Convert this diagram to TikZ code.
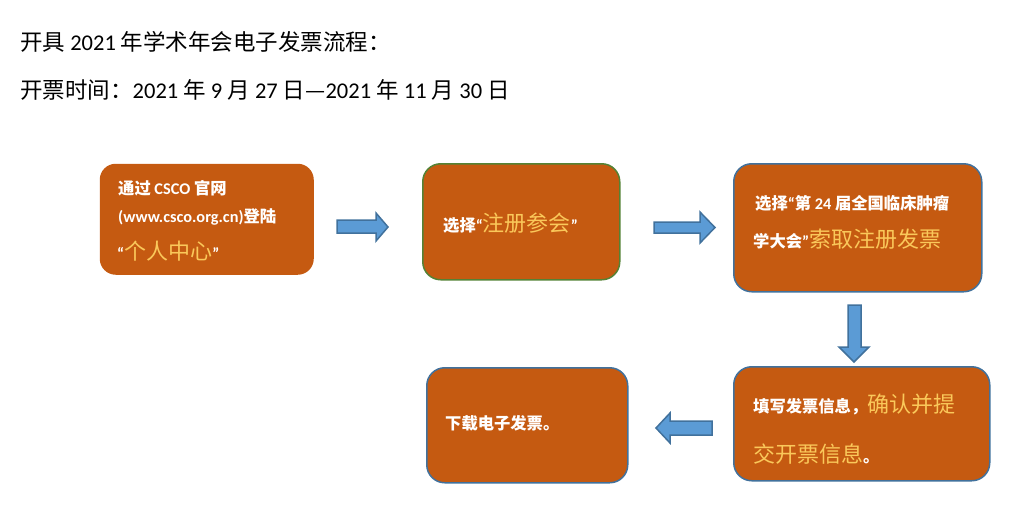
\documentclass[tikz,border=0pt]{standalone}
\usepackage{fontspec}
\usepackage{tikz}
\setmainfont{Carlito}
\newfontfamily\cjk{Noto Sans CJK SC}

\definecolor{boxfill}{RGB}{197,90,17}
\definecolor{boxline}{RGB}{65,113,156}
\definecolor{greenline}{RGB}{84,130,53}
\definecolor{arrowfill}{RGB}{91,155,213}
\definecolor{hilite}{RGB}{250,200,90}

\newcommand{\zh}[1]{{\cjk #1}}
\newcommand{\hl}[1]{{\color{hilite}\fontsize{22}{22}\selectfont\cjk\mdseries #1}}

\tikzset{
  box/.style={rounded corners=18pt, fill=boxfill, draw=boxline, line width=1.5pt,
    anchor=north west, inner sep=0pt},
  wtext/.style={anchor=base west, inner sep=0pt, text=white,
    font=\fontsize{16.3}{16.3}\selectfont\bfseries},
  title/.style={anchor=base west, inner sep=0pt, font=\fontsize{22.5}{22.5}\selectfont},
  arrowshape/.style={fill=arrowfill, draw=boxline, line width=1.5pt}
}

\begin{document}
\begin{tikzpicture}[x=1pt,y=-1pt]
  \useasboundingbox (0,0) rectangle (1016,531);
  \node[title] (head) at (20,50.5) {\zh{开具} 2021 \zh{年学术年会电子发票流程：}};
  \node[title] (period) at (20,98.5) {\zh{开票时间：}2021 \zh{年} 9 \zh{月} 27 \zh{日—}2021 \zh{年} 11 \zh{月} 30 \zh{日}};
  % boxes
  \node[box, draw=none, rounded corners=16pt, minimum width=214pt, minimum height=111pt] (login) at (99,163) {};
  \node[box, draw=greenline, minimum width=197pt, minimum height=116pt] (register) at (422,163) {};
  \node[box, minimum width=248pt, minimum height=128pt] (request) at (733,163) {};
  \node[box, minimum width=256pt, minimum height=114pt] (fill) at (733,366) {};
  \node[box, minimum width=201pt, minimum height=115pt] (download) at (426,367) {};
  % texts
  \node[wtext] (login1) at (118,194) {\zh{通过} CSCO \zh{官网}};
  \node[wtext] (login2) at (118,222) {(www.csco.org.cn)\zh{登陆}};
  \node[wtext] (login3) at (117,259) {“\hl{个人中心}”};
  \node[wtext] (register1) at (443,231) {\zh{选择}“\hl{注册参会}”};
  \node[wtext] (request1) at (755,209) {\zh{选择}“\zh{第} 24 \zh{届全国临床肿瘤}};
  \node[wtext] (request2) at (753,247) {\zh{学大会}”\hl{索取注册发票}};
  \node[wtext] (fill1) at (753,412) {\zh{填写发票信息，}\hl{确认并提}};
  \node[wtext] (fill2) at (753,462) {\hl{交开票信息}\zh{。}};
  \node[wtext] (download1) at (445,429) {\zh{下载电子发票。}};
  % block arrows
  \draw[arrowshape] (337,220) -- (376,220) -- (376,213) -- (388,227) -- (376,241) -- (376,233) -- (337,233) -- cycle;
  \draw[arrowshape] (654,222) -- (700,222) -- (700,212) -- (715,227.5) -- (700,243) -- (700,233) -- (654,233) -- cycle;
  \draw[arrowshape] (848,305) -- (861,305) -- (861,347) -- (869,347) -- (854,362) -- (839,347) -- (848,347) -- cycle;
  \draw[arrowshape] (712,421) -- (670,421) -- (670,413) -- (656,428) -- (670,443) -- (670,435) -- (712,435) -- cycle;
\end{tikzpicture}
\end{document}
